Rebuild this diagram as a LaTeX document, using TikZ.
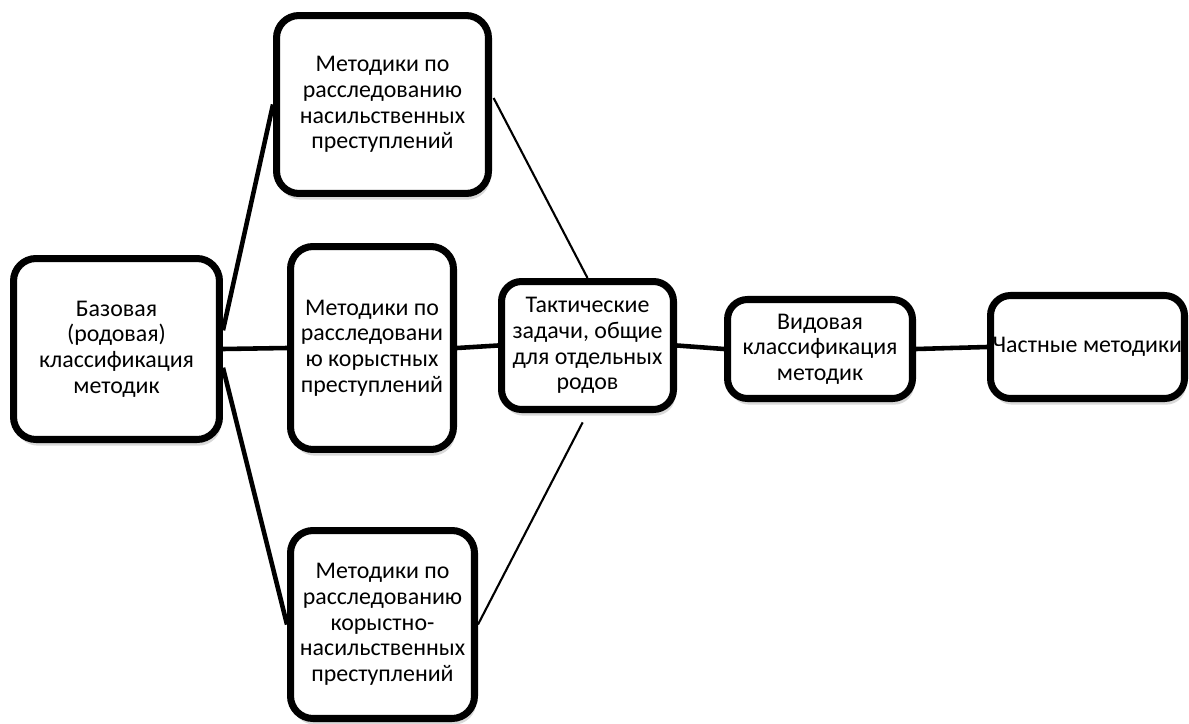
\documentclass[tikz,border=0pt]{standalone}
\usepackage{fontspec}
\setmainfont{Carlito}
\usetikzlibrary{positioning,shadows}

\begin{document}
\begin{tikzpicture}[
  x=0.02cm, y=-0.02cm,
  box/.style={draw, line width=4pt, rounded corners=0.45cm, fill=white, align=center, inner sep=1pt,
    font=\fontsize{13.6}{14.6}\selectfont,
    drop shadow={opacity=0.3, shadow xshift=1pt, shadow yshift=-3.5pt}},
  link/.style={line width=2.6pt},
  thinlink/.style={line width=1.2pt}
]
  \useasboundingbox (0,0) rectangle (1189,723);

  \node[box, minimum width=4.12cm, minimum height=3.62cm] (base) at (116.5,349) {Базовая\\(родовая)\\классификация\\методик};
  \node[box, minimum width=4.24cm, minimum height=3.56cm] (viol) at (382.5,104.5) {Методики по\\расследованию\\насильственных\\преступлений};
  \node[box, minimum width=3.26cm, minimum height=4.06cm] (gain) at (372,348) {Методики по\\расследовани\\ю корыстных\\преступлений};
  \node[box, minimum width=3.68cm, minimum height=3.76cm] (mixed) at (382.5,624.5) {Методики по\\расследованию\\корыстно-\\насильственных\\преступлений};
  \node[box, minimum width=3.44cm, minimum height=2.56cm, rounded corners=0.4cm] (tact) at (587.5,345.5) {Тактические\\задачи, общие\\для отдельных\\родов};
  \node[box, minimum width=3.70cm, minimum height=1.98cm, rounded corners=0.4cm] (kind) at (820,349) {Видовая\\классификация\\методик};
  \node[box, minimum width=3.88cm, minimum height=2.06cm, rounded corners=0.4cm] (part) at (1087.5,347) {Частные методики};

  \draw[link] (base.10) -- (viol.west);
  \draw[link] (base.east) -- (gain.west);
  \draw[link] (base.-10) -- (mixed.west);
  \draw[link] (gain.east) -- (tact.west);
  \draw[link] (tact.east) -- (kind.west);
  \draw[link] (kind.east) -- (part.west);
  \draw[thinlink, shorten <=2pt] (viol.5) -- (tact.north);
  \draw[thinlink, shorten >=6pt] (mixed.east) -- (tact.south);
\end{tikzpicture}
\end{document}
